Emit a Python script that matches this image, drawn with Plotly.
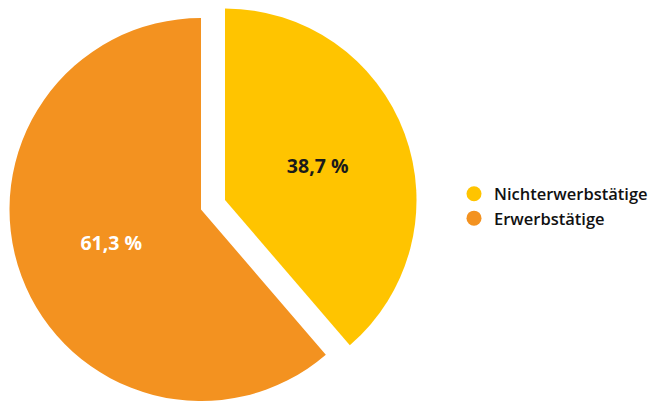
import plotly.graph_objects as go

labels = ["Nichterwerbstätige", "Erwerbstätige"]
values = [38.7, 61.3]
colors = ["#FFC400", "#F39220"]
text_colors = ["#1a1a1a", "#ffffff"]

W, H = 653, 401
R = 191.5
# base pie centre (px from top-left) and exploded slice centre
cA = (201, 209.5)
cB = (225, 200)

def dom(c):
    cx, cy = c
    yb = H - cy
    return dict(x=[(cx - R) / W, (cx + R) / W], y=[(yb - R) / H, (yb + R) / H])

fig = go.Figure()
# main body (Erwerbstätige)
fig.add_trace(go.Pie(
    labels=labels, values=values, sort=False, direction="clockwise", rotation=0,
    marker=dict(colors=["rgba(0,0,0,0)", colors[1]], line=dict(width=0)),
    texttemplate=["", "%{value:.1f} %"], textposition="inside",
    insidetextorientation="horizontal",
    textfont=dict(family="Open Sans", size=19.5, color=text_colors, weight=700),
    domain=dom(cA), showlegend=False, hoverinfo="skip",
))
# exploded slice (Nichterwerbstätige)
fig.add_trace(go.Pie(
    labels=labels, values=values, sort=False, direction="clockwise", rotation=0,
    marker=dict(colors=[colors[0], "rgba(0,0,0,0)"], line=dict(width=0)),
    texttemplate=["%{value:.1f} %", ""], textposition="inside",
    insidetextorientation="horizontal",
    textfont=dict(family="Open Sans", size=19.5, color=text_colors, weight=700),
    domain=dom(cB), showlegend=False, hoverinfo="skip",
))
# legend entries
for lab, col in zip(labels, colors):
    fig.add_trace(go.Scatter(x=[None], y=[None], mode="markers", name=lab,
                             marker=dict(color=col, size=15, symbol="circle")))

fig.update_layout(
    width=W, height=H, margin=dict(l=0, r=0, t=0, b=0),
    paper_bgcolor="white", plot_bgcolor="rgba(0,0,0,0)",
    separators=", ",
    xaxis=dict(visible=False), yaxis=dict(visible=False),
    legend=dict(x=1, xanchor="right", y=1 - 206 / H, yanchor="middle",
                font=dict(family="Open Sans", size=16.5, color="#111111", weight=600),
                bgcolor="rgba(0,0,0,0)", tracegroupgap=0, itemwidth=30),
)
fig.write_html("out.html")
